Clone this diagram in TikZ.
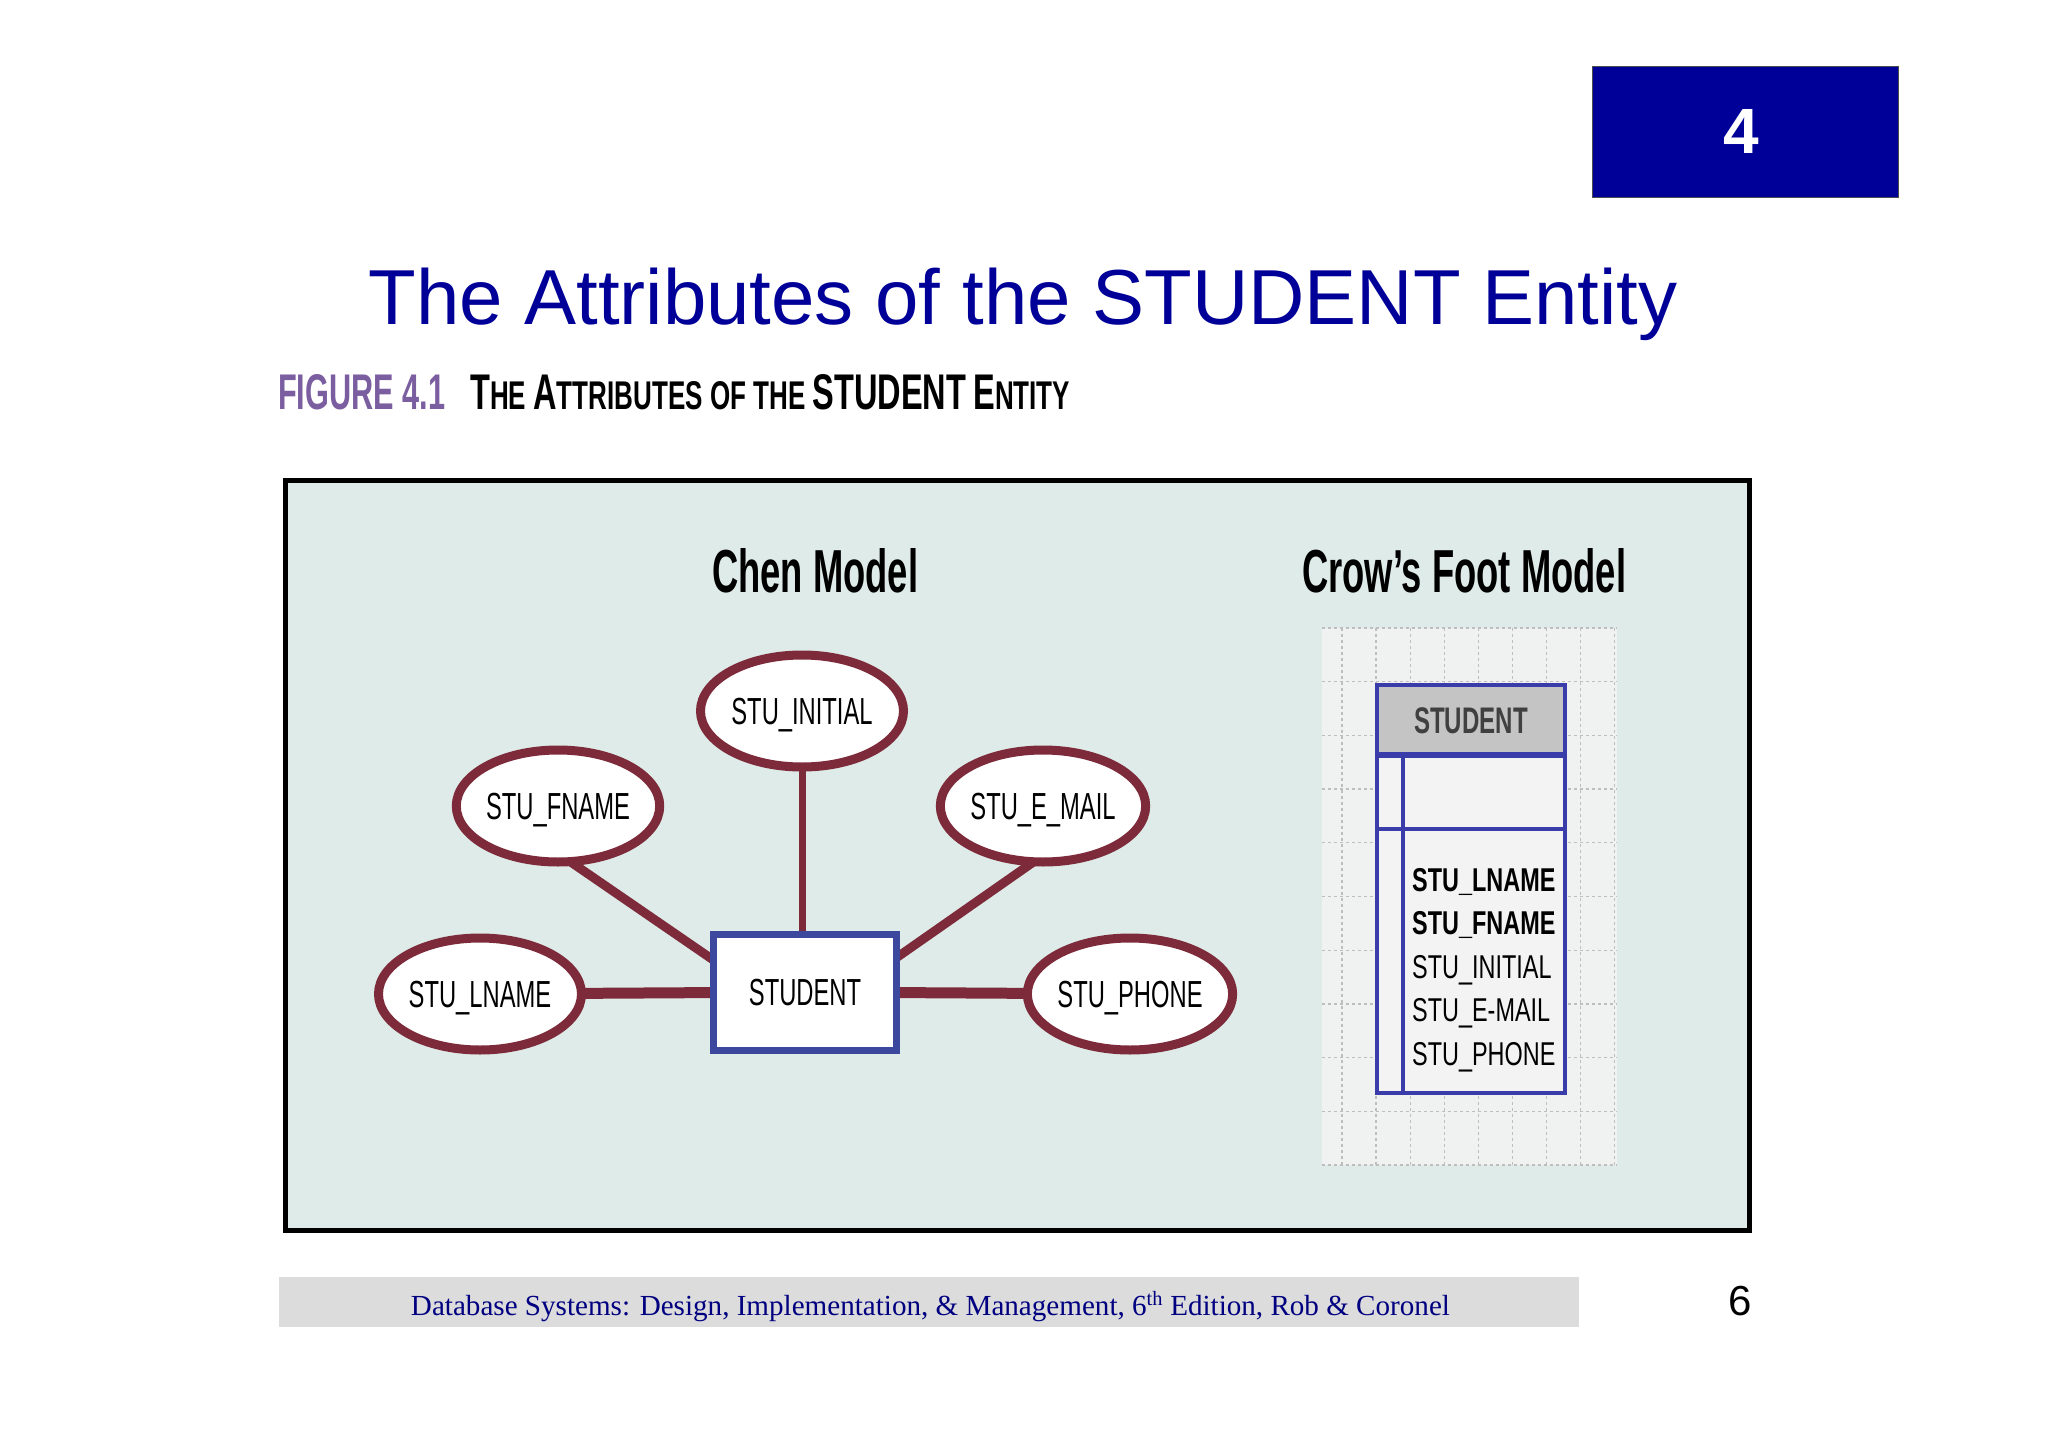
\documentclass[tikz,border=0pt]{standalone}
\usepackage{fontspec}
\usepackage{graphicx}
\setmainfont{Liberation Sans}
\newfontfamily\seriffam{Liberation Serif}
\usetikzlibrary{calc,shapes.geometric}
\definecolor{panelbg}{RGB}{223,235,232}
\definecolor{chenred}{RGB}{125,43,59}
\definecolor{entblue}{RGB}{59,72,158}
\definecolor{tblblue}{RGB}{58,60,170}
\definecolor{titleblue}{RGB}{0,0,153}
\definecolor{figpurple}{RGB}{123,94,160}
\definecolor{gridbg}{RGB}{240,241,241}
\definecolor{gridline}{RGB}{190,190,190}
\definecolor{hdrgray}{RGB}{196,196,196}
\definecolor{tblbodybg}{RGB}{243,243,243}
\definecolor{footgray}{RGB}{220,220,220}
\definecolor{footblue}{RGB}{0,0,128}
\newcommand\chenlbl[1]{\scalebox{0.63}[1]{\fontsize{37.7}{40}\selectfont #1}}
\newcommand\cflbl[1]{\scalebox{0.71}[1]{\fontsize{33}{36}\selectfont #1}}
\newcommand\capbig[1]{{\fontsize{40}{40}\selectfont #1}}
\newcommand\capsml[1]{{\fontsize{32}{32}\selectfont #1}}
\pgfdeclarelayer{bg}
\pgfdeclarelayer{links}
\pgfsetlayers{bg,links,main}
\begin{document}
\begin{tikzpicture}[x=1pt,y=-1pt,
  attr/.style={ellipse, draw=chenred, line width=9pt, fill=white,
    minimum width=203pt, minimum height=112pt, inner sep=0pt,
    text height=27pt, text depth=0pt},
  ent/.style={rectangle, draw=entblue, line width=7pt, fill=white,
    minimum width=183pt, minimum height=116pt, inner sep=0pt,
    text height=27pt, text depth=0pt},
  link/.style={draw=chenred},
  cfattr/.style={anchor=base west, inner sep=0pt},
  gridln/.style={draw=gridline, line width=1.3pt, dash pattern=on 3pt off 3pt},
  tblbox/.style={draw=tblblue, line width=4pt, minimum width=188pt, inner sep=0pt}
]
\useasboundingbox (0,0) rectangle (2048,1447);

% panel
\begin{pgfonlayer}{bg}
\fill[white] (0,0) rectangle (2048,1447);
\node[draw=black, line width=5pt, fill=panelbg, minimum width=1464pt,
  minimum height=750pt, inner sep=0pt] (panel) at (1017.5,855.5) {};
% crow's foot grid
\fill[gridbg] (1322,628) rectangle (1617,1165);
\foreach \k in {0,...,10} { \draw[gridln] (1322,628+53.7*\k) -- (1617,628+53.7*\k); }
\foreach \k in {0,...,8} { \draw[gridln] (1342+34.1*\k,628) -- (1342+34.1*\k,1165); }
\end{pgfonlayer}

% chapter box
\node[fill=titleblue, draw=black!70, line width=1pt, minimum width=306pt,
  minimum height=131pt, inner sep=0pt] (chapbox) at (1745,132.5) {};
\node[text=white, inner sep=0pt, text height=46pt, text depth=0pt]
  (chapnum) at (1741,131) {\bfseries\fontsize{64}{66}\selectfont 4};

% title
\node[anchor=base, text=titleblue, inner sep=0pt] (title) at (1023,324)
  {\fontsize{78}{80}\selectfont The Attributes of the STUDENT Entity};

% figure caption
\node[anchor=base west, inner sep=0pt, text=figpurple] (fignum) at (278,409)
  {\resizebox{167pt}{35pt}{\bfseries FIGURE 4.1}};
\node[anchor=base west, inner sep=0pt] (figcap) at (470,409)
  {\resizebox{600pt}{35pt}{\bfseries\fontsize{32}{32}\selectfont\capbig{T}\capsml{HE} \capbig{A}\capsml{TTRIBUTES} \capsml{OF THE} \capbig{STUDENT} \capbig{E}\capsml{NTITY}}};

% section titles
\node[anchor=base west, inner sep=0pt] (chen) at (712,592)
  {\resizebox{206pt}{44pt}{\bfseries Chen Model}};
\node[anchor=base west, inner sep=0pt] (crow) at (1302,592)
  {\resizebox{324pt}{44pt}{\bfseries Crow’s Foot Model}};

% Chen model
\node[attr] (initial) at (802,711) {\chenlbl{STU\_INITIAL}};
\node[attr] (fname) at (558,806) {\chenlbl{STU\_FNAME}};
\node[attr] (email) at (1043,806) {\chenlbl{STU\_E\_MAIL}};
\node[attr] (lname) at (480,994) {\chenlbl{STU\_LNAME}};
\node[attr] (phone) at (1130,994) {\chenlbl{STU\_PHONE}};
\node[ent] (student) at (805,992) {\chenlbl{STUDENT}};

\begin{pgfonlayer}{links}
\draw[link, line width=11pt] (lname.center) -- (student.center);
\draw[link, line width=11pt] (phone.center) -- (student.center);
\draw[link, line width=7pt] (initial.center) -- (initial.center |- student.center);
\draw[link, line width=9pt] ($(fname.center)+(4,50)$) -- ($(student.center)+(-80,-24)$);
\draw[link, line width=9pt] ($(email.center)+(-1,50)$) -- ($(student.center)+(81,-27)$);
\end{pgfonlayer}

% Crow's foot table
\node[tblbox, fill=tblbodybg, minimum height=337pt] (tblbody) at (1471,924.5) {};
\node[tblbox, fill=hdrgray, minimum height=69pt, text=black!75,
  text height=27pt, text depth=0pt] (tblhead) at (1471,719.5)
  {\scalebox{0.65}[1]{\fontsize{37}{40}\selectfont\bfseries STUDENT}};
\draw[tblblue, line width=4.5pt] ($(tblbody.west)+(0,-95.5)$) coordinate (sepL)
  -- ($(tblbody.east)+(0,-95.5)$) coordinate (sepR);
\draw[tblblue, line width=4pt] ($(tblbody.north west)+(28,0)$) -- ($(tblbody.south west)+(28,0)$);

\node[cfattr] (a1) at (1412,891) {\cflbl{\bfseries STU\_LNAME}};
\node[cfattr] (a2) at (1412,934.5) {\cflbl{\bfseries STU\_FNAME}};
\node[cfattr] (a3) at (1412,978) {\cflbl{STU\_INITIAL}};
\node[cfattr] (a4) at (1412,1021.5) {\cflbl{STU\_E-MAIL}};
\node[cfattr] (a5) at (1412,1065) {\cflbl{STU\_PHONE}};

% footer
\node[fill=footgray, minimum width=1300pt, minimum height=50pt, inner sep=0pt]
  (footbar) at (929,1302) {};
\node[anchor=base, text=footblue, inner sep=0pt] (foottext) at (930.5,1315)
  {\resizebox{1039pt}{!}{\seriffam\fontsize{29}{30}\selectfont Database Systems: Design, Implementation, \& Management, 6\textsuperscript{th} Edition, Rob \& Coronel}};
\node[anchor=base, inner sep=0pt] (pagenum) at (1740,1315) {\fontsize{42}{44}\selectfont 6};
\end{tikzpicture}
\end{document}
